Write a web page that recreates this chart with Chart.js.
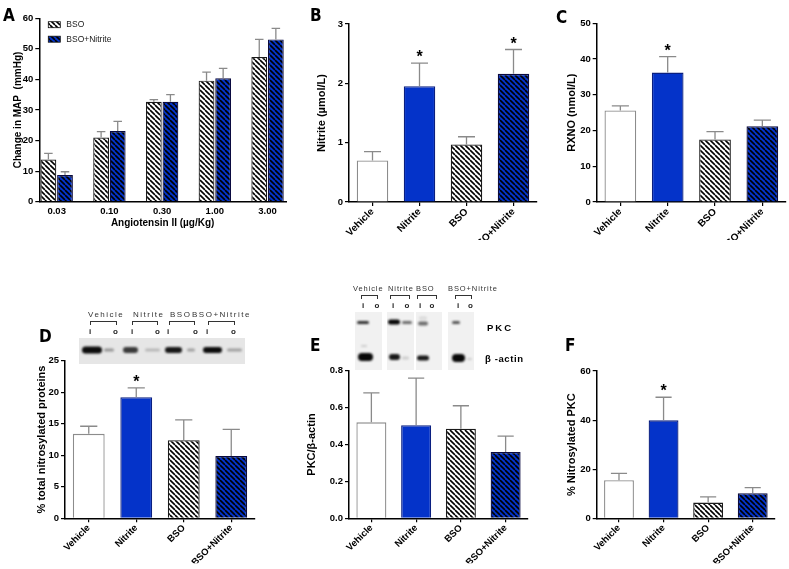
<!DOCTYPE html>
<html lang="en">
<head>
<meta charset="UTF-8">
<title>BSO / Nitrite</title>
<script src="https://cdn.jsdelivr.net/npm/chart.js"></script>
<style>
  body { margin: 0; background: #fff; }
  #fig { position: relative; width: 789px; height: 569px; overflow: hidden; font-family: "Liberation Sans", Arial, sans-serif; }
  #fig canvas { position: absolute; }
  .lbl { position: absolute; font: bold 17px/18px "Liberation Sans Narrow", "DejaVu Sans Condensed", sans-serif; }
</style>
</head>
<body>
<div id="fig"></div>
<script>
// ---- data ----
const doses = ['0.03', '0.10', '0.30', '1.00', '3.00'];
const mapBso = [13.8, 21.0, 32.7, 39.6, 47.3];
const mapBsoSem = [2.0, 1.9, 0.7, 2.8, 5.8];
const mapBsoNit = [8.7, 23.1, 32.7, 40.4, 53.1];
const mapBsoNitSem = [1.1, 3.2, 2.3, 3.2, 3.6];

const groups = ['Vehicle', 'Nitrite', 'BSO', 'BSO+Nitrite'];
const nitrite = [0.70, 1.95, 0.97, 2.16];
const nitriteSem = [0.15, 0.39, 0.13, 0.41];
const rxno = [25.6, 36.2, 17.5, 21.2];
const rxnoSem = [1.3, 4.5, 2.2, 1.7];
const totalSno = [13.4, 19.2, 12.4, 9.9];
const totalSnoSem = [1.2, 1.5, 3.2, 4.2];
const pkcActin = [0.52, 0.505, 0.485, 0.36];
const pkcActinSem = [0.16, 0.255, 0.125, 0.085];
const snoPkc = [15.5, 39.9, 6.4, 10.2];
const snoPkcSem = [2.8, 9.4, 2.3, 2.3];

Chart.defaults.font.family = '"Liberation Sans", Arial, sans-serif';
Chart.defaults.color = '#000';

const fig = document.getElementById('fig');
const BLUE = '#0433c9';

// diagonal stripes like the Prism hatch
function hatch(bg) {
  const t = document.createElement('canvas');
  t.width = t.height = 5;
  const g = t.getContext('2d');
  g.fillStyle = bg; g.fillRect(0, 0, 5, 5);
  g.strokeStyle = '#000'; g.lineWidth = 1.6;
  g.beginPath();
  for (let k = -5; k <= 5; k += 5) { g.moveTo(k, 0); g.lineTo(k + 5, 5); }
  g.stroke();
  return g.createPattern(t, 'repeat');
}
const fills = ['#ffffff', BLUE, hatch('#ffffff'), hatch(BLUE)];
const edges = ['#8c8c8c', '#0a1f80', '#1a1a1a', '#0a0a40'];

function place(left, top, w, h) {
  const c = document.createElement('canvas');
  c.width = w; c.height = h;
  c.style.left = left + 'px'; c.style.top = top + 'px';
  fig.appendChild(c);
  return c;
}

// error bars (upper only) + significance stars
const errorBars = {
  id: 'errorBars',
  afterDatasetsDraw(chart) {
    const ctx = chart.ctx, y = chart.scales.y;
    const zero = y.getPixelForValue(0);
    ctx.save();
    chart.data.datasets.forEach((ds, di) => {
      chart.getDatasetMeta(di).data.forEach((bar, i) => {
        const top = bar.y - (zero - y.getPixelForValue(ds.sem[i]));
        const cap = bar.width * 0.27;
        ctx.strokeStyle = '#8a8a8a'; ctx.lineWidth = 1.3;
        ctx.beginPath();
        ctx.moveTo(bar.x, bar.y); ctx.lineTo(bar.x, top);
        ctx.moveTo(bar.x - cap, top); ctx.lineTo(bar.x + cap, top);
        ctx.stroke();
        if (ds.stars && ds.stars.includes(i)) {
          ctx.fillStyle = '#000';
          ctx.font = 'bold 16px "Liberation Sans", Arial';
          ctx.textAlign = 'center'; ctx.textBaseline = 'alphabetic';
          ctx.fillText('*', bar.x, top - 1);
        }
      });
    });
    ctx.restore();
  }
};

// small legend inside panel A
const boxLegend = {
  id: 'boxLegend',
  afterDraw(chart, args, o) {
    const ctx = chart.ctx, a = chart.chartArea;
    ctx.save();
    chart.data.datasets.forEach((ds, i) => {
      const x = a.left + o.x, y = a.top + o.y + i * o.gap;
      ctx.fillStyle = ds.backgroundColor; ctx.fillRect(x, y, 12, 6);
      ctx.strokeStyle = '#111'; ctx.lineWidth = 0.8; ctx.strokeRect(x, y, 12, 6);
      ctx.fillStyle = '#222'; ctx.font = '8.5px "Liberation Sans", Arial';
      ctx.textBaseline = 'middle';
      ctx.fillText(ds.label, x + 18, y + 3);
    });
    ctx.restore();
  }
};

function yAxis(max, step, title, width, titleSize, fmt) {
  return {
    min: 0, max: max,
    ticks: { stepSize: step, font: { size: 9.5, weight: 'bold' }, padding: 2, callback: fmt || (v => v) },
    grid: { drawOnChartArea: false, tickLength: 4, color: '#000', lineWidth: 1.2 },
    border: { color: '#000', width: 1.5 },
    title: { display: true, text: title, font: { size: titleSize, weight: 'bold' }, padding: 0 },
    afterFit: s => { s.width = width; }
  };
}

function xCat(height, size) {
  return {
    z: 1,
    ticks: { font: { size: size, weight: 'bold' }, minRotation: 45, maxRotation: 45, padding: 0, autoSkip: false },
    grid: { offset: false, drawOnChartArea: false, tickLength: 4, color: '#000', lineWidth: 1.2 },
    border: { color: '#000', width: 1.5 },
    afterFit: s => { s.height = height; }
  };
}

function groupChart(canvas, pad, values, sem, stars, y, xh, xs) {
  return new Chart(canvas, {
    type: 'bar',
    data: {
      labels: groups,
      datasets: [{ data: values, sem: sem, stars: stars, backgroundColor: fills, borderColor: edges,
                   borderWidth: 1.3, categoryPercentage: 1, barPercentage: 0.67 }]
    },
    options: {
      responsive: false, animation: false,
      layout: { padding: pad },
      plugins: { legend: { display: false }, tooltip: { enabled: false } },
      scales: { x: xCat(xh, xs), y: y }
    },
    plugins: [errorBars]
  });
}

// ---- A: dose response ----
new Chart(place(0, 0, 300, 240), {
  type: 'bar',
  data: {
    datasets: [
      { label: 'BSO', data: mapBso.map((v, i) => ({ x: i, y: v })), sem: mapBsoSem,
        backgroundColor: fills[2], borderColor: edges[2], borderWidth: 1.2, categoryPercentage: 0.63, barPercentage: 0.95 },
      { label: 'BSO+Nitrite', data: mapBsoNit.map((v, i) => ({ x: i, y: v })), sem: mapBsoNitSem,
        backgroundColor: fills[3], borderColor: edges[3], borderWidth: 1.2, categoryPercentage: 0.63, barPercentage: 0.95 }
    ]
  },
  options: {
    responsive: false, animation: false,
    layout: { padding: { left: 12, top: 18.3, right: 14, bottom: 11 } },
    plugins: { legend: { display: false }, tooltip: { enabled: false }, boxLegend: { x: 9, y: 3.4, gap: 14.5 } },
    scales: {
      x: {
        type: 'linear', min: -0.33, max: 4.35, offset: false, z: 1,
        ticks: { stepSize: 1, includeBounds: false, autoSkip: false, maxRotation: 0, padding: 4,
                 font: { size: 9.5, weight: 'bold' }, callback: v => doses[v] ?? '' },
        grid: { display: false, drawTicks: false },
        border: { color: '#000', width: 1.5 },
        title: { display: true, text: 'Angiotensin II (µg/Kg)', font: { size: 10, weight: 'bold' }, padding: 0 },
        afterFit: s => { s.height = 27.3; }
      },
      y: yAxis(60, 10, 'Change in MAP  (mmHg)', 27.3, 10)
    }
  },
  plugins: [errorBars, boxLegend]
});

// ---- B, C ----
groupChart(place(300, 0, 245, 240), { left: 15.1, top: 24, right: 8, bottom: 0 },
  nitrite, nitriteSem, [1, 3], yAxis(3, 1, 'Nitrite (µmol/L)', 33.9, 11), 38, 10);
groupChart(place(545, 0, 244, 240), { left: 20.1, top: 23.3, right: 3, bottom: 0 },
  rxno, rxnoSem, [1], yAxis(50, 10, 'RXNO (nmol/L)', 31.6, 11), 38, 10);

// ---- D, E, F ----
groupChart(place(0, 240, 275, 329), { left: 35.4, top: 120.7, right: 20, bottom: 5.7 },
  totalSno, totalSnoSem, [1], yAxis(25, 5, '% total nitrosylated proteins', 29.6, 11), 45, 9.5);
groupChart(place(275, 240, 270, 329), { left: 30.1, top: 130.7, right: 17, bottom: 5.7 },
  pkcActin, pkcActinSem, [], yAxis(0.8, 0.2, 'PKC/β-actin', 43.9, 11, v => v.toFixed(1)), 45, 9.5);
groupChart(place(545, 240, 244, 329), { left: 20.1, top: 131, right: 14, bottom: 5.7 },
  snoPkc, snoPkcSem, [1], yAxis(60, 20, '% Nitrosylated PKC', 31.6, 11), 45, 9.5);

// ---- blot pictures and their labels ----
function blot(x, y, w, h, bg, bands) {
  const g = place(x, y, w, h).getContext('2d');
  g.fillStyle = bg; g.fillRect(0, 0, w, h);
  g.filter = 'blur(1px)';
  bands.forEach(b => {
    g.fillStyle = `rgba(0,0,0,${b[4]})`;
    g.beginPath(); g.roundRect(b[0], b[1] - b[3] / 2, b[2], b[3], b[3] / 2); g.fill();
  });
}
function put(text, x, y, css) {
  const d = document.createElement('div');
  d.textContent = text;
  d.style.cssText = `position:absolute;left:${x}px;top:${y}px;white-space:nowrap;line-height:1;` + css;
  fig.appendChild(d);
}
function bracket(x1, x2, y) {
  const d = document.createElement('div');
  d.style.cssText = `position:absolute;left:${x1}px;top:${y}px;width:${x2 - x1}px;height:4px;` +
    'border:1px solid #333;border-bottom:none;box-sizing:border-box;';
  fig.appendChild(d);
}
const laneFont = 'font-size:8px;letter-spacing:1.5px;color:#333;';
const laneFontE = 'font-size:7.5px;letter-spacing:0.9px;color:#333;';
const ioFont = 'font-size:8px;font-weight:bold;color:#222;';

blot(79, 338, 166, 26, '#e6e6e6', [
  [3, 12, 20, 7, .95], [25, 12, 10, 3, .35], [44, 12, 15, 6, .75], [66, 12, 15, 3, .2],
  [86, 12, 17, 6, .9], [108, 12, 8, 3, .3], [124, 12, 19, 6, .95], [148, 12, 15, 3, .3]
]);
[['Vehicle', 88], ['Nitrite', 133], ['BSO', 170], ['BSO+Nitrite', 192]].forEach(l => put(l[0], l[1], 311, laneFont));
[[90, 117], [132, 158], [169, 195], [208, 235]].forEach(b => bracket(b[0], b[1], 321));
[89, 131, 167, 206].forEach(x => put('i', x, 328, ioFont));
[113, 155, 193, 231].forEach(x => put('o', x, 328, ioFont));

blot(355, 312, 27, 58, '#f1f1f1', [[2, 10.5, 12, 3, .8], [3, 45, 15, 8, .97], [6, 34, 6, 1.5, .2]]);
blot(387, 312, 27, 58, '#f1f1f1', [[1, 10, 12, 5, .97], [15, 10.5, 10, 3, .55], [2, 45, 11, 6, .9], [15, 46, 7, 3, .15]]);
blot(416, 312, 26, 58, '#f1f1f1', [[2, 11.5, 10, 4, .55], [1, 46, 12, 5, .9], [3, 6, 8, 3, .1]]);
blot(448, 312, 26, 58, '#f1f1f1', [[4, 10.5, 8, 3, .65], [4, 46, 13, 8, .97], [19, 47, 5, 2, .15]]);
[['Vehicle', 353], ['Nitrite', 388], ['BSO', 416], ['BSO+Nitrite', 448]].forEach(l => put(l[0], l[1], 284.5, laneFontE));
[[361, 378], [390, 410], [417, 437], [455, 472]].forEach(b => bracket(b[0], b[1], 295));
[362, 392, 419, 457].forEach(x => put('i', x, 301.5, ioFont));
[374.5, 404.5, 429.5, 468].forEach(x => put('o', x, 301.5, ioFont));
put('PKC', 487, 323, 'font-size:9.5px;font-weight:bold;letter-spacing:2px;');
put('β -actin', 485, 354, 'font-size:9.5px;font-weight:bold;letter-spacing:0.6px;');

// panel letters
[['A', 3, 6], ['B', 310, 6], ['C', 556, 8], ['D', 39, 327], ['E', 310, 336], ['F', 565, 336]].forEach(l => {
  const d = document.createElement('div');
  d.className = 'lbl'; d.textContent = l[0];
  d.style.left = l[1] + 'px'; d.style.top = l[2] + 'px';
  fig.appendChild(d);
});
</script>
</body>
</html>
